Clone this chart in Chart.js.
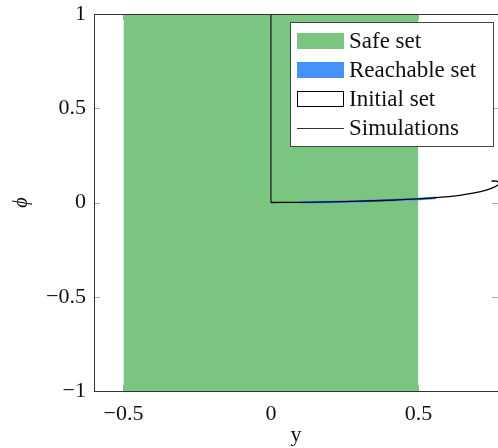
<!DOCTYPE html>
<html>
<head>
<meta charset="utf-8">
<script src="https://cdn.jsdelivr.net/npm/chart.js@4/dist/chart.umd.min.js"></script>
<style>
  html, body { margin: 0; padding: 0; background: #fff; }
  #wrap { width: 498px; height: 448px; }
</style>
</head>
<body>
<div id="wrap"><canvas id="myChart" width="498" height="448"></canvas></div>
<script>
// data
const safeX = [-0.5, 0.5];
const safePhi = [1, 1];
const reachX = [0.1, 0.2, 0.3, 0.4, 0.5, 0.56];
const reachPhi = [0.001, 0.003, 0.007, 0.012, 0.019, 0.025];
const initX = [0, 0];
const initPhi = [0, 1];
const simX = [0, 0.1, 0.2, 0.3, 0.4, 0.5, 0.58, 0.64, 0.69, 0.73, 0.755, 0.77, 0.772, 0.765, 0.748];
const simPhi = [0, 0.001, 0.003, 0.007, 0.012, 0.019, 0.028, 0.038, 0.051, 0.066, 0.08, 0.093, 0.104, 0.113, 0.114];
const xTicks = [-0.5, 0, 0.5];
const yTicks = [-1, -0.5, 0, 0.5, 1];

const FONT = "'Liberation Serif', 'DejaVu Serif', serif";
const pts = (xs, ys) => xs.map((x, i) => ({ x: x, y: ys[i] }));
const fmt = v => (v < 0 ? '\u2212' : '') + Math.abs(v);

// pgfplots style: frame, inward ticks, legend inside
const frame = {
  id: 'frame',
  beforeDatasetsDraw(chart) {
    const { ctx, chartArea: a, scales } = chart;
    ctx.save();
    ctx.strokeStyle = '#aaa';
    ctx.lineWidth = 1;
    ctx.beginPath();
    yTicks.forEach(v => {
      const p = Math.round(scales.y.getPixelForValue(v)) + 0.5;
      ctx.moveTo(a.left, p); ctx.lineTo(a.left + 6, p);
      ctx.moveTo(a.right, p); ctx.lineTo(a.right - 6, p);
    });
    xTicks.forEach(v => {
      const p = Math.round(scales.x.getPixelForValue(v)) + 0.5;
      ctx.moveTo(p, a.bottom); ctx.lineTo(p, a.bottom - 6);
      ctx.moveTo(p, a.top); ctx.lineTo(p, a.top + 6);
    });
    ctx.stroke();
    ctx.restore();
  },
  afterDatasetsDraw(chart) {
    const { ctx, chartArea: a } = chart;
    ctx.save();
    ctx.strokeStyle = '#333';
    ctx.lineWidth = 1;
    ctx.strokeRect(Math.round(a.left) + 0.5, Math.round(a.top) + 0.5, a.right - a.left, a.bottom - a.top);
    ctx.restore();
  },
  afterDraw(chart) {
    const ctx = chart.ctx;
    const ds = chart.data.datasets;
    ctx.save();
    ctx.fillStyle = '#fff';
    ctx.fillRect(290, 22, 204, 125);
    ctx.strokeStyle = '#444';
    ctx.lineWidth = 1;
    ctx.strokeRect(290.5, 22.5, 203, 124);
    ctx.font = '23px ' + FONT;
    ctx.textBaseline = 'middle';
    ds.forEach((d, i) => {
      const cy = 41 + i * 29;
      if (d.legendKind === 'fill') {
        ctx.fillStyle = d.legendColor;
        ctx.fillRect(297, cy - 8, 47, 16);
      } else if (d.legendKind === 'box') {
        ctx.strokeStyle = '#000';
        ctx.strokeRect(297.5, cy - 7.5, 46, 15);
      } else {
        ctx.strokeStyle = '#333';
        ctx.beginPath();
        ctx.moveTo(297, cy + 0.5); ctx.lineTo(344, cy + 0.5);
        ctx.stroke();
      }
      ctx.fillStyle = '#111';
      ctx.fillText(d.label, 349, cy + 1);
    });
    ctx.restore();
  }
};

const ctx = document.getElementById('myChart').getContext('2d');
const myChart = new Chart(ctx, {
  type: 'scatter',
  data: {
    datasets: [
      {
        label: 'Safe set',
        data: pts(safeX, safePhi),
        showLine: true,
        fill: 'start',
        backgroundColor: 'rgb(122,198,128)',
        borderWidth: 0,
        pointRadius: 0,
        order: 4,
        legendKind: 'fill',
        legendColor: 'rgb(122,198,128)',
      },
      {
        label: 'Reachable set',
        data: pts(reachX, reachPhi),
        showLine: true,
        borderColor: 'rgb(68,146,250)',
        borderWidth: 2.5,
        tension: 0.3,
        pointRadius: 0,
        order: 3,
        legendKind: 'fill',
        legendColor: 'rgb(68,146,250)',
      },
      {
        label: 'Initial set',
        data: pts(initX, initPhi),
        showLine: true,
        borderColor: '#333',
        borderWidth: 1.5,
        pointRadius: 0,
        order: 2,
        legendKind: 'box',
      },
      {
        label: 'Simulations',
        data: pts(simX, simPhi),
        showLine: true,
        borderColor: '#000',
        borderWidth: 1.3,
        tension: 0.35,
        pointRadius: 0,
        order: 1,
        legendKind: 'line',
      },
    ],
  },
  options: {
    animation: false,
    responsive: false,
    layout: { padding: { top: 14, right: 0, left: 0, bottom: 0 } },
    plugins: {
      legend: { display: false },
      tooltip: { enabled: false },
    },
    scales: {
      x: {
        type: 'linear',
        min: -0.6,
        max: 0.77,
        afterBuildTicks: s => { s.ticks = xTicks.map(v => ({ value: v })); },
        afterFit: s => { s.height = 57; s.paddingLeft = 0; s.paddingRight = 0; },
        grid: { display: false, drawTicks: false },
        border: { display: false },
        ticks: { padding: 10, color: '#111', font: { family: FONT, size: 22 }, callback: v => fmt(v), maxRotation: 0 },
        title: { display: true, text: 'y', color: '#111', font: { family: FONT, size: 22 }, padding: { top: 0, bottom: 0 } },
      },
      y: {
        type: 'linear',
        min: -1,
        max: 1,
        afterBuildTicks: s => { s.ticks = yTicks.map(v => ({ value: v })); },
        afterFit: s => { s.width = 94; s.paddingTop = 0; s.paddingBottom = 0; },
        grid: { display: false, drawTicks: false },
        border: { display: false },
        ticks: { padding: 8, color: '#111', font: { family: FONT, size: 22 }, callback: v => fmt(v) },
        title: { display: true, text: '\u03d5', color: '#111', font: { family: FONT, size: 20, style: 'italic' }, padding: { top: 10, bottom: 0 } },
      },
    },
  },
  plugins: [frame],
});
</script>
</body>
</html>
